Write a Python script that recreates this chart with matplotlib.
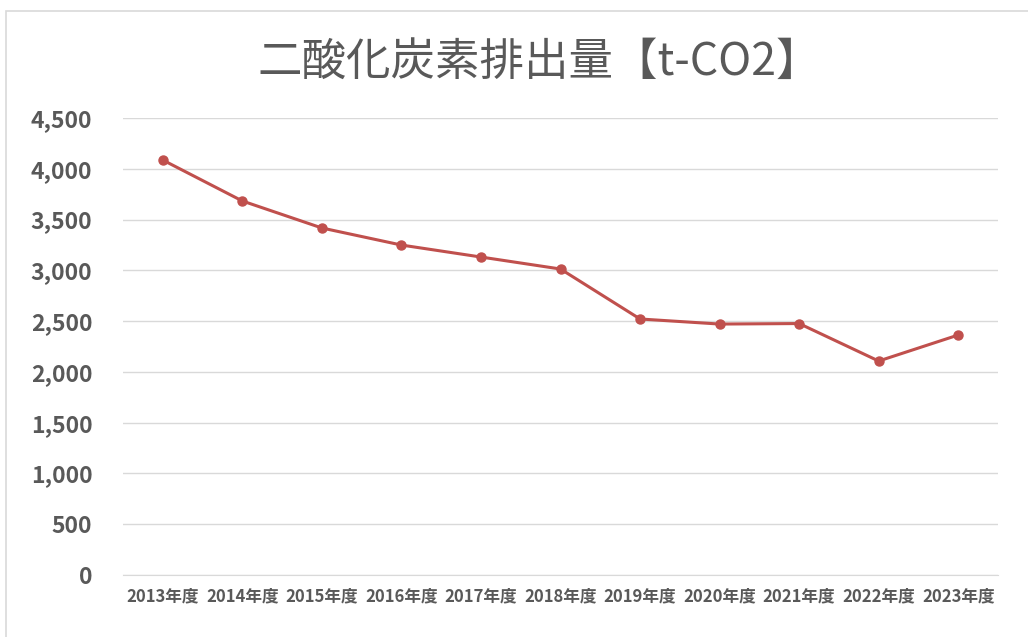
import matplotlib.pyplot as plt
from matplotlib.patches import Rectangle
from matplotlib.ticker import FuncFormatter

plt.rcParams['font.family'] = ['Noto Sans CJK JP', 'DejaVu Sans']

# Data
years = ["2013年度", "2014年度", "2015年度", "2016年度", "2017年度", "2018年度",
         "2019年度", "2020年度", "2021年度", "2022年度", "2023年度"]
emissions = [4086, 3683, 3417, 3249, 3131, 3013, 2521, 2471, 2476, 2107, 2363]
y_ticks = [0, 500, 1000, 1500, 2000, 2500, 3000, 3500, 4000, 4500]

text_color = "#595959"
line_color = "#C0504D"
grid_color = "#D9D9D9"


def main():
    fig = plt.figure(figsize=(10.28, 6.37), dpi=100)
    fig.patches.append(Rectangle((6 / 1028, -0.05), 1.1, 1 - 11 / 637 + 0.05,
                                 transform=fig.transFigure, fill=False,
                                 edgecolor=grid_color, linewidth=1.2))

    ax = fig.add_axes([123 / 1028, 1 - 575 / 637, (998 - 123) / 1028, (575 - 118) / 637])
    x = list(range(len(years)))
    ax.plot(x, emissions, color=line_color, linewidth=2.2, marker="o",
            markersize=6.5, zorder=3)

    ax.set_xlim(-0.5, len(years) - 0.5)
    ax.set_ylim(0, 4500)
    ax.set_yticks(y_ticks)
    ax.yaxis.set_major_formatter(FuncFormatter(lambda v, p: f"{int(v):,}"))
    ax.set_xticks(x)
    ax.set_xticklabels(years)

    ax.grid(axis="y", color=grid_color, linewidth=1)
    ax.set_axisbelow(True)
    for side in ["top", "right", "left"]:
        ax.spines[side].set_visible(False)
    ax.spines["bottom"].set_color(grid_color)
    ax.tick_params(axis="both", length=0)
    ax.tick_params(axis="y", labelsize=16.5, labelcolor=text_color, pad=22)
    ax.tick_params(axis="x", labelsize=12, labelcolor=text_color, pad=9)
    for lbl in ax.get_yticklabels() + ax.get_xticklabels():
        lbl.set_fontweight("bold")

    fig.text(539 / 1028, 1 - 62 / 637, "二酸化炭素排出量【t-CO2】", ha="center",
             va="center", fontsize=32, color=text_color)

    fig.savefig("out.png", dpi=100)


if __name__ == "__main__":
    main()
